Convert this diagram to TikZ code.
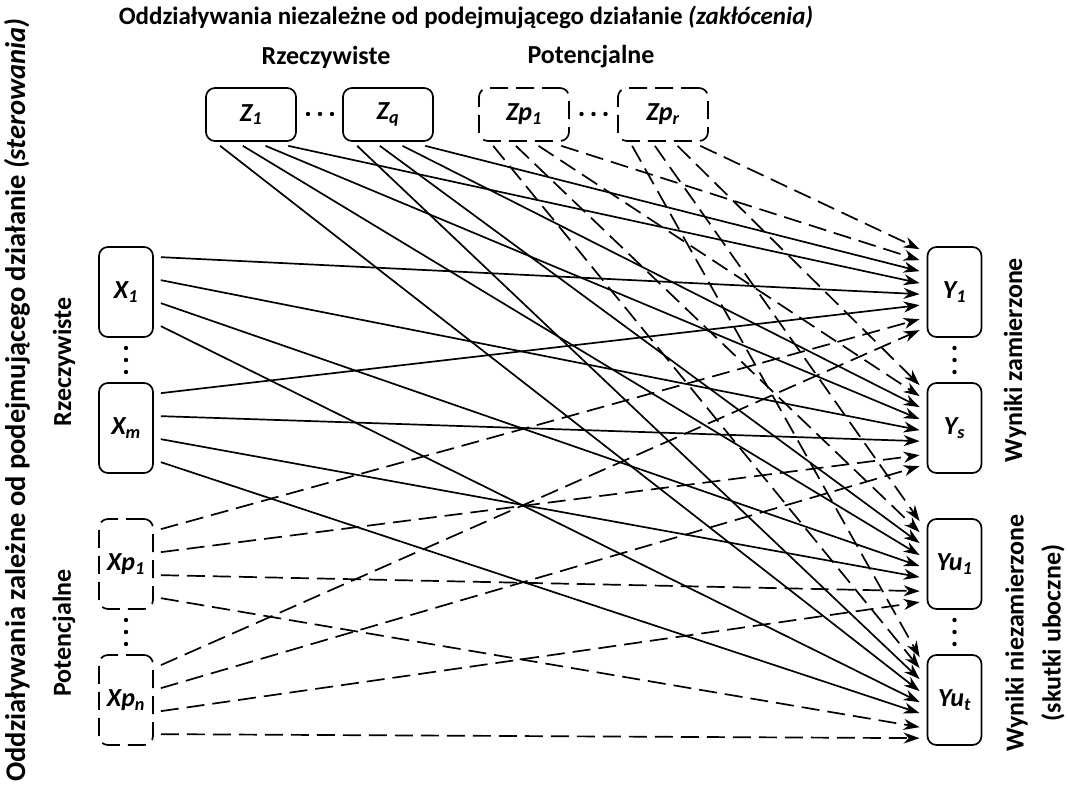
\documentclass[tikz,border=0pt]{standalone}
\usepackage{fontspec}
\setmainfont{Carlito}
\usetikzlibrary{arrows.meta,calc}
\tikzset{
  bx/.style={draw, line width=1.7pt, rounded corners=9pt, inner sep=0pt,
    font=\fontsize{26}{30}\selectfont\bfseries\itshape},
  zbox/.style={bx, minimum width=90pt, minimum height=53pt},
  xbox/.style={bx, minimum width=54pt, minimum height=90pt},
  pot/.style={dash pattern=on 18pt off 8pt},
  conn/.style={line width=1.7pt, -{Stealth[length=16pt,width=11pt,inset=5pt]}},
  lbl/.style={font=\fontsize{26}{37}\selectfont\bfseries, inner sep=0pt},
  dot/.style={fill=black}
}
\begin{document}
\begin{tikzpicture}[x=1pt,y=-1pt]
\useasboundingbox (0,0) rectangle (1068,787);
% boxes
\node[zbox] (Z1) at (251,114.5) {Z\textsubscript{1}};
\node[zbox] (Zq) at (388,114.5) {Z\textsubscript{q}};
\node[zbox,pot] (Zp1) at (524,114.5) {Zp\textsubscript{1}};
\node[zbox,pot] (Zpr) at (663,114.5) {Zp\textsubscript{r}};
\node[xbox] (X1) at (126,292) {X\textsubscript{1}};
\node[xbox] (Xm) at (126,428) {X\textsubscript{m}};
\node[xbox,pot] (Xp1) at (126,564) {Xp\textsubscript{1}};
\node[xbox,pot] (Xpn) at (126,700) {Xp\textsubscript{n}};
\node[xbox] (Y1) at (954.5,292) {Y\textsubscript{1}};
\node[xbox] (Ys) at (954.5,428) {Y\textsubscript{s}};
\node[xbox] (Yu1) at (954.5,564) {Yu\textsubscript{1}};
\node[xbox] (Yut) at (954.5,700) {Yu\textsubscript{t}};
% connectors
\foreach \t [count=\k from 0] in {Y1,Ys,Yu1,Yut} {
  \foreach \s/\off/\sty in {Zpr/3/pot, Zp1/14/pot, Zq/25/solid, Z1/37/solid} {
    \draw[conn,\sty] ([xshift={15pt+22.7pt*(3-\k)}, yshift=-4pt]\s.south west)
      -- ([xshift=-7pt, yshift={-\off pt}]\t.north west);
  }
  \foreach \s/\off/\sty in {X1/48/solid, Xm/59/solid, Xp1/73/pot, Xpn/84/pot} {
    \draw[conn,\sty] ([xshift=7pt, yshift={-11pt-23pt*\k}]\s.north east)
      -- ([xshift=-7pt, yshift={-\off pt}]\t.north west);
  }
}
% ellipses
\foreach \cx in {308,320,332} \fill[dot] (\cx,114) circle (2.2pt);
\foreach \cx in {581.5,593.5,605.5} \fill[dot] (\cx,114) circle (2.2pt);
\foreach \cx in {126,954.5} {
  \foreach \cy in {348,360,372,620,632,644} \fill[dot] (\cx,\cy) circle (2.2pt);
}
% labels
\node[lbl, font=\fontsize{25}{30}\selectfont\bfseries] (tt) at (466,17) {Oddziaływania niezależne od podejmującego działanie \textit{(zakłócenia)}};
\node[lbl] (tr) at (326,57) {Rzeczywiste};
\node[lbl] (tp) at (591,57) {Potencjalne};
\node[lbl, rotate=90, font=\fontsize{28.5}{34}\selectfont\bfseries] (lt) at (17,400) {Oddziaływania zależne od podejmującego działanie \textit{(sterowania)}};
\node[lbl, rotate=90] (lr) at (64,362) {Rzeczywiste};
\node[lbl, rotate=90] (lp) at (64,633) {Potencjalne};
\node[lbl, rotate=90] (rz) at (1015,360) {Wyniki zamierzone};
\node[lbl, rotate=90, align=center] (rn) at (1035,633) {Wyniki niezamierzone\\(skutki uboczne)};
\end{tikzpicture}
\end{document}
